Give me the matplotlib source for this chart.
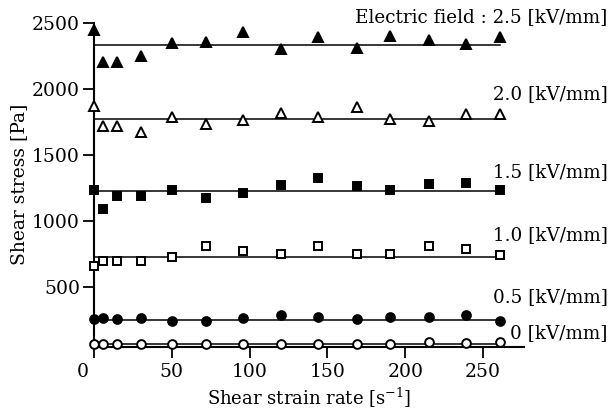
import matplotlib
matplotlib.use("Agg")
import matplotlib.pyplot as plt
import matplotlib.transforms as mtransforms

plt.rcParams['font.family'] = ['DejaVu Serif']
plt.rcParams['mathtext.fontset'] = 'dejavuserif'

shear_rate = [0, 6, 15, 30, 50, 72, 96, 120, 144, 169, 190, 215, 239, 261]

stress_25 = [2447, 2206, 2206, 2251, 2347, 2357, 2427, 2302, 2389, 2309, 2397, 2372, 2340, 2392]
stress_20 = [1874, 1716, 1716, 1673, 1786, 1731, 1767, 1819, 1784, 1862, 1769, 1754, 1807, 1809]
stress_15 = [1234, 1095, 1188, 1190, 1239, 1173, 1216, 1277, 1329, 1264, 1239, 1284, 1292, 1234]
stress_10 = [663, 698, 698, 698, 731, 811, 776, 756, 811, 756, 749, 811, 791, 743]
stress_05 = [259, 266, 261, 266, 248, 246, 266, 291, 274, 259, 274, 274, 291, 248]
stress_00 = [70, 70, 70, 70, 70, 70, 70, 70, 70, 70, 70, 90, 82, 90]

fit_levels = [2335, 1776, 1226, 727, 250, 72]
field_labels = ["Electric field : 2.5 [kV/mm]", "2.0 [kV/mm]", "1.5 [kV/mm]",
                "1.0 [kV/mm]", "0.5 [kV/mm]", "0 [kV/mm]"]
label_y = [2543, 1961, 1372, 895, 426, 154]

series = [stress_25, stress_20, stress_15, stress_10, stress_05, stress_00]
markers = ['^', '^', 's', 's', 'o', 'o']
filled = [True, False, True, False, True, False]
sizes = [7.5, 7.5, 6.3, 6.3, 6.3, 6.3]

fig = plt.figure(figsize=(6.13, 4.16), dpi=100)
ax = fig.add_axes([0.1533, 0.1666, 0.7007, 0.7788])

for ys, m, f, s, lvl in zip(series, markers, filled, sizes, fit_levels):
    ax.plot([shear_rate[0], shear_rate[-1]], [lvl, lvl], color='black', lw=1.1, zorder=1)
    ax.plot(shear_rate, ys, linestyle='none', marker=m, markersize=s,
            markerfacecolor='black' if f else 'white', markeredgecolor='black',
            markeredgewidth=1.4, zorder=3, clip_on=False)

for lab, ly in zip(field_labels, label_y):
    ax.text(1.0 + 84/429.5, ly, lab, transform=ax.get_yaxis_transform(),
            ha='right', va='center', fontsize=13.2, clip_on=False)

ax.set_xlim(0, 276)
ax.set_ylim(52, 2500)
ax.set_xticks([0, 50, 100, 150, 200, 250])
ax.set_yticks([500, 1000, 1500, 2000, 2500])
ax.spines['top'].set_visible(False)
ax.spines['right'].set_visible(False)
ax.spines['left'].set_linewidth(1.5)
ax.spines['bottom'].set_linewidth(1.5)
ax.tick_params(axis='both', direction='out', length=8, width=1.3, labelsize=13.5)
ax.tick_params(axis='y', pad=2)
ax.set_xlabel(r"Shear strain rate [s$^{\mathregular{-1}}$]", fontsize=13, labelpad=4)
ax.set_ylabel("Shear stress [Pa]", fontsize=13.5, labelpad=3)

fig.canvas.draw()
zero_lab = ax.get_xticklabels()[0]
zero_lab.set_transform(zero_lab.get_transform() +
                       mtransforms.ScaledTranslation(-0.11, 0, fig.dpi_scale_trans))

fig.savefig("out.png", dpi=100)
